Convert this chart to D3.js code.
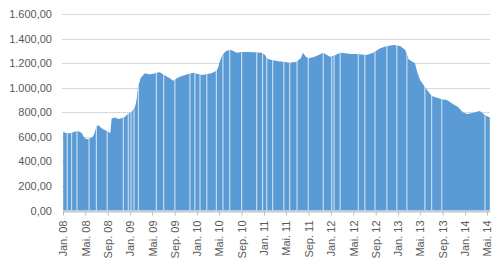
<!DOCTYPE html>
<html>
<head>
<meta charset="utf-8">
<script src="https://cdn.jsdelivr.net/npm/d3@7"></script>
<style>
  body { margin: 0; background: #fff; }
  svg { display: block; font-family: "Liberation Sans", Arial, sans-serif; }
  .grid-line { stroke: #d9d9d9; stroke-width: 1; }
  .axis text { fill: #595959; font-size: 11px; }
</style>
</head>
<body>
<svg></svg>
<script>
// Kursdaten
let dates = [
  "2008-01-02","2008-01-20","2008-02-08","2008-03-05","2008-03-25","2008-04-11","2008-04-28","2008-05-15",
  "2008-06-01","2008-06-15","2008-07-01","2008-07-10","2008-07-25","2008-08-07","2008-08-25","2008-09-04",
  "2008-09-15","2008-09-22","2008-10-10","2008-10-30","2008-11-15","2008-12-03","2008-12-20","2009-01-10",
  "2009-01-28","2009-02-05","2009-02-13","2009-02-28","2009-03-22","2009-04-15","2009-05-05","2009-05-24",
  "2009-06-12","2009-07-10","2009-08-05","2009-08-25","2009-09-12","2009-10-10","2009-11-10","2009-12-11",
  "2010-01-05","2010-01-27","2010-02-20","2010-03-20","2010-04-16","2010-04-25","2010-05-04","2010-05-20",
  "2010-06-10","2010-07-07","2010-08-04","2010-09-05","2010-10-06","2010-11-10","2010-12-18","2011-01-06",
  "2011-01-20","2011-02-12","2011-03-10","2011-04-15","2011-05-21","2011-06-27","2011-07-20","2011-08-02",
  "2011-08-15","2011-08-30","2011-09-26","2011-10-20","2011-11-20","2011-12-26","2012-01-20","2012-02-20",
  "2012-03-20","2012-04-20","2012-05-19","2012-06-15","2012-07-13","2012-08-18","2012-09-25","2012-10-25",
  "2012-12-06","2013-01-12","2013-02-09","2013-02-27","2013-04-03","2013-04-15","2013-05-01","2013-05-28",
  "2013-07-03","2013-08-27","2013-09-24","2013-10-25","2013-11-25","2013-12-20","2014-01-11","2014-02-15",
  "2014-03-22","2014-04-19","2014-05-07","2014-05-16"
];
let values = [
  640, 632, 628, 642, 645, 634, 588, 580,
  590, 607, 680, 696, 675, 661, 650, 642,
  630, 750, 758, 745, 752, 761, 785, 805,
  845, 900, 1008, 1080, 1117, 1110, 1112, 1122,
  1125, 1100, 1076, 1057, 1076, 1095, 1110, 1122,
  1112, 1103, 1110, 1117, 1138, 1160, 1212, 1270,
  1301, 1307, 1285, 1290, 1291, 1288, 1285, 1266,
  1235, 1225, 1218, 1212, 1204, 1212, 1240, 1285,
  1255, 1240, 1248, 1262, 1285, 1252, 1262, 1285,
  1280, 1275, 1274, 1270, 1266, 1285, 1321, 1335,
  1348, 1340, 1307, 1231, 1199, 1130, 1063, 1003,
  932, 906, 900, 870, 840, 800, 786, 795,
  810, 777, 764, 760
];
// Tage ohne Daten (weisse Luecken)
let gapDates = [
  "2008-01-24","2008-02-17","2008-03-17","2008-05-22","2008-07-01","2008-08-29","2008-11-25","2008-12-22",
  "2009-01-06","2009-01-22","2009-02-15","2009-05-24","2009-07-03","2009-09-02","2009-11-23","2009-12-20",
  "2010-01-17","2010-02-23","2010-04-16","2010-05-22","2010-06-28","2010-09-01","2010-11-22","2010-12-24",
  "2011-01-16","2011-02-17","2011-04-19","2011-05-21","2011-06-30","2011-08-30","2011-11-20","2012-01-05",
  "2012-01-18","2012-02-20","2012-05-29","2012-07-04","2012-08-28","2012-11-01","2012-12-25","2013-02-18",
  "2013-05-27","2013-07-03","2013-08-27","2014-04-20"
];
let yTicks = [0, 200, 400, 600, 800, 1000, 1200, 1400, 1600];
let xTickLabels = [
  "Jan. 08","Mai. 08","Sep. 08","Jan. 09","Mai. 09","Sep. 09","Jan. 10","Mai. 10","Sep. 10","Jan. 11",
  "Mai. 11","Sep. 11","Jan. 12","Mai. 12","Sep. 12","Jan. 13","Mai. 13","Sep. 13","Jan. 14","Mai. 14"
];

let parse = d3.timeParse("%Y-%m-%d");
let data = dates.map((d, i) => ({ date: parse(d), value: values[i] }));
let gaps = gapDates.map(parse);
let xTickDates = d3.timeMonth.every(4).range(new Date(2008, 0, 1), new Date(2014, 5, 1));

let width = 500;
let height = 265;
let plotLeft = 63, plotRight = 490, plotTop = 14, plotBottom = 210.5;

let svg = d3.select("svg").attr("width", width).attr("height", height);

let scaleX = d3.scaleTime()
  .domain([new Date(2008, 0, 1), new Date(2014, 4, 17)])
  .range([plotLeft, plotRight]);
let scaleY = d3.scaleLinear().domain([0, 1600]).range([plotBottom, plotTop]);

let de = d3.formatLocale({ decimal: ",", thousands: ".", grouping: [3], currency: ["", "€"] });
let fmt = de.format(",.2f");

// horizontale Gitterlinien
svg.append("g")
  .selectAll("line")
  .data(yTicks)
  .enter()
  .append("line")
  .classed("grid-line", true)
  .attr("x1", plotLeft - 1)
  .attr("x2", plotRight)
  .attr("y1", d => Math.round(scaleY(d)) + 0.5)
  .attr("y2", d => Math.round(scaleY(d)) + 0.5);

// Flaeche
let area = d3.area()
  .x(d => scaleX(d.date))
  .y0(scaleY(0))
  .y1(d => scaleY(d.value));

svg.append("clipPath")
  .attr("id", "clip")
  .append("path")
  .attr("d", area(data));

svg.append("path")
  .datum(data)
  .attr("d", area)
  .style("fill", "#5b9bd5");

// Luecken
svg.append("g")
  .attr("clip-path", "url(#clip)")
  .selectAll("line")
  .data(gaps)
  .enter()
  .append("line")
  .attr("x1", d => scaleX(d))
  .attr("x2", d => scaleX(d))
  .attr("y1", scaleY(0))
  .attr("y2", plotTop)
  .style("stroke", "#ffffff")
  .style("stroke-opacity", 0.7)
  .style("stroke-width", 1.1);

// Achse OY
let axisY = d3.axisLeft(scaleY).tickValues(yTicks).tickFormat(fmt).tickSize(0).tickPadding(10);
svg.append("g")
  .attr("class", "axis")
  .attr("transform", `translate(${plotLeft - 1}, 0)`)
  .call(axisY)
  .call(g => g.select(".domain").remove());

// Achse OX
let axisX = d3.axisBottom(scaleX)
  .tickValues(xTickDates)
  .tickFormat((d, i) => xTickLabels[i])
  .tickSizeInner(4)
  .tickSizeOuter(0);
let gx = svg.append("g")
  .attr("class", "axis")
  .attr("transform", `translate(0, ${Math.round(plotBottom) + 0.5})`)
  .call(axisX);
gx.select(".domain").attr("stroke", "#bfbfbf");
gx.selectAll(".tick line").attr("stroke", "#bfbfbf");
gx.selectAll("text")
  .style("text-anchor", "end")
  .attr("x", -9)
  .attr("y", 0)
  .attr("dy", "0.35em")
  .attr("transform", "rotate(-90)");
</script>
</body>
</html>
